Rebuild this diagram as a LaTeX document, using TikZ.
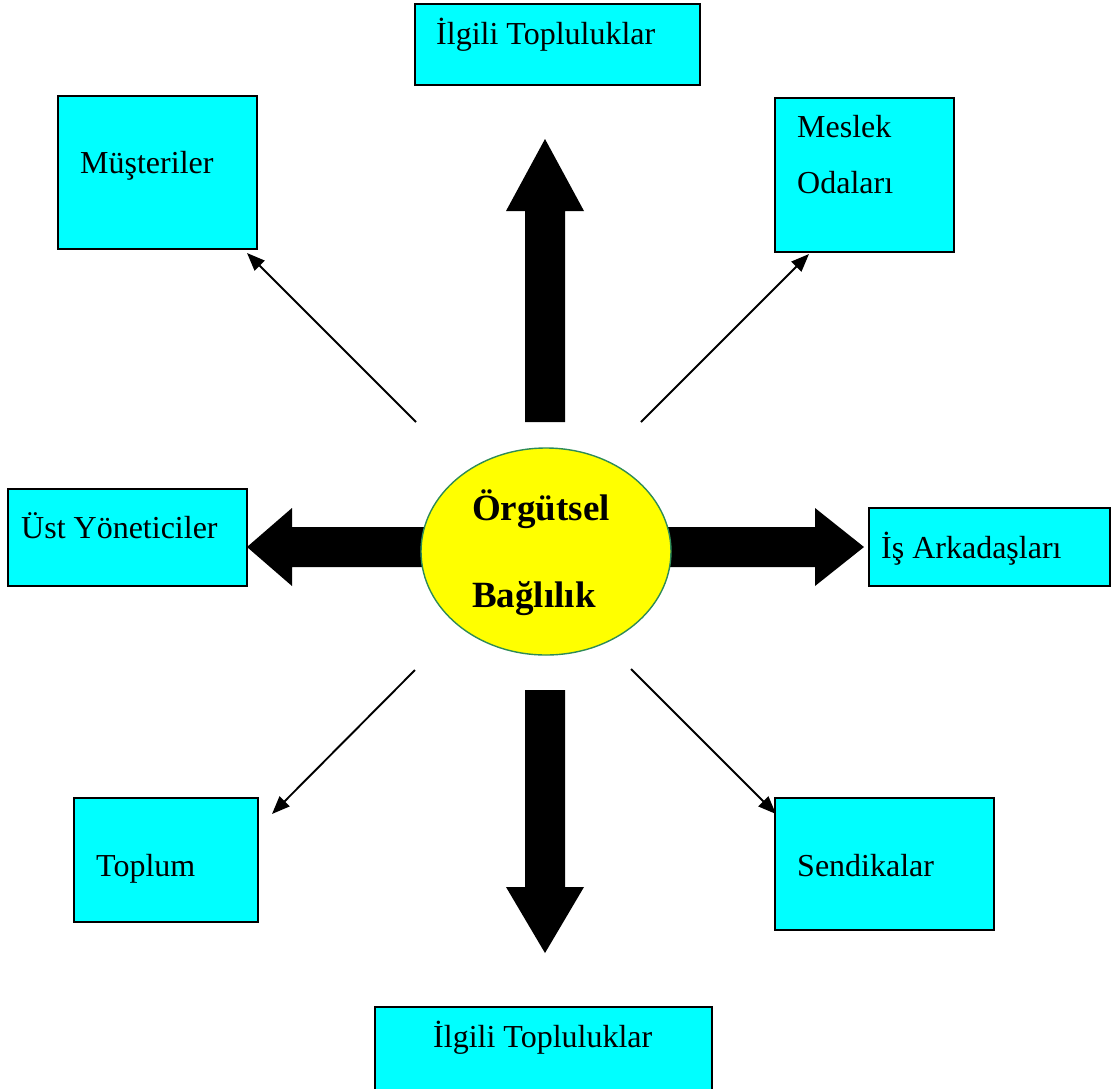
\documentclass[tikz,border=0pt]{standalone}
\usepackage{fontspec}
\setmainfont{Liberation Serif}
\usetikzlibrary{arrows.meta,calc,shapes.geometric}
\definecolor{boxfill}{RGB}{0,255,255}
\definecolor{hubfill}{RGB}{255,255,0}
\definecolor{hubline}{RGB}{46,139,87}
\tikzset{
  box/.style={draw=black, line width=1.6pt, fill=boxfill, inner sep=0pt, rectangle},
  lbl/.style={anchor=base west, inner sep=0pt, font=\fontsize{32}{38}\selectfont},
  hub/.style={ellipse, draw=hubline, line width=1.4pt, fill=hubfill, inner sep=0pt},
  hublbl/.style={anchor=base west, inner sep=0pt, font=\fontsize{37}{44}\selectfont\bfseries},
  bigarrow/.style={fill=black, draw=none},
  thin/.style={draw=black, line width=1.9pt, -{Triangle[length=18pt,width=14pt]}}
}
\begin{document}
\begin{tikzpicture}[x=1pt,y=-1pt]
\useasboundingbox (0,0) rectangle (1111,1088);

% block arrows leaving the centre
\fill[bigarrow] (525,422) -- (525,211) -- (506,211) -- (545,139) -- (584,211) -- (565,211) -- (565,422) -- cycle;
\fill[bigarrow] (525,690) -- (525,887) -- (506,887) -- (545,953) -- (584,887) -- (565,887) -- (565,690) -- cycle;
\fill[bigarrow] (430,527) -- (292,527) -- (292,508) -- (247,547) -- (292,586) -- (292,567) -- (430,567) -- cycle;
\fill[bigarrow] (660,527) -- (815,527) -- (815,508) -- (864,547) -- (815,586) -- (815,567) -- (660,567) -- cycle;

% central ellipse
\node[hub, minimum width=250pt, minimum height=207pt] (hub) at (546,551.5) {};
\node[hublbl] (hubA) at (472,520) {Örgütsel};
\node[hublbl] (hubB) at (472,607) {Bağlılık};

% surrounding boxes
\node[box, minimum width=285pt, minimum height=81pt] (topg) at (557.5,44.5) {};
\node[lbl] (topgT) at (436,44) {İlgili Topluluklar};

\node[box, minimum width=199pt, minimum height=153pt] (must) at (157.5,172.5) {};
\node[lbl] (mustT) at (80,173) {Müşteriler};

\node[box, minimum width=179pt, minimum height=154pt] (mes) at (864.5,175) {};
\node[lbl] (mesT1) at (797,137) {Meslek};
\node[lbl] (mesT2) at (797,193) {Odaları};

\node[box, minimum width=239pt, minimum height=97pt] (ust) at (127.5,537.5) {};
\node[lbl] (ustT) at (21,538) {Üst Yöneticiler};

\node[box, minimum width=241pt, minimum height=78pt] (is) at (989.5,547) {};
\node[lbl] (isT) at (881,558) {İş Arkadaşları};

\node[box, minimum width=184pt, minimum height=124pt] (top) at (166,860) {};
\node[lbl] (topT) at (96,876) {Toplum};

\node[box, minimum width=219pt, minimum height=132pt] (sen) at (884.5,864) {};
\node[lbl] (senT) at (797,876) {Sendikalar};

\node[box, minimum width=337pt, minimum height=86pt] (botg) at (543.5,1050) {};
\node[lbl] (botgT) at (433,1047) {İlgili Topluluklar};

% thin diagonal arrows
\coordinate (s1) at (416,422);
\coordinate (e1) at (247,253);
\coordinate (s2) at (641,422);
\coordinate (e2) at (809,254);
\coordinate (s3) at (415,670);
\coordinate (e3) at (272,814);
\coordinate (s4) at (631,669);
\coordinate (e4) at (776,814);
\draw[thin] (s1) -- (e1);
\draw[thin] (s2) -- (e2);
\draw[thin] (s3) -- (e3);
\draw[thin] (s4) -- (e4);
\end{tikzpicture}
\end{document}
